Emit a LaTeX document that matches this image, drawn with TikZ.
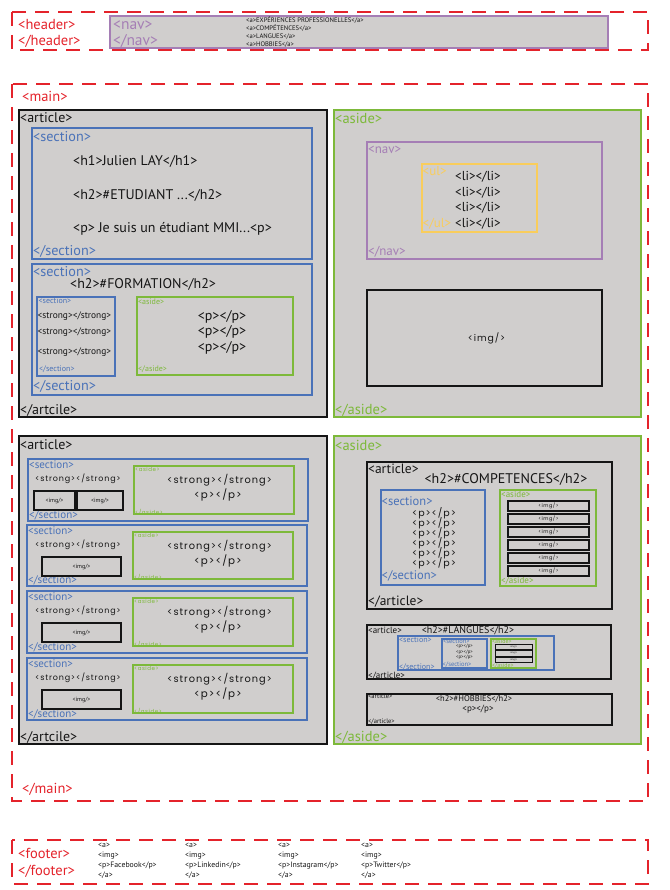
\documentclass[tikz,border=0pt]{standalone}
\usepackage{fontspec}
\setmainfont{PT Sans}
\newfontfamily\geofont[LetterSpace=10]{Poppins}
\usetikzlibrary{positioning}
\definecolor{redtag}{HTML}{E4232B}
\definecolor{bluetag}{HTML}{4A72B8}
\definecolor{greentag}{HTML}{7DB93A}
\definecolor{purpletag}{HTML}{A57EB5}
\definecolor{yellowtag}{HTML}{F9CD5C}
\definecolor{fillgray}{HTML}{D0CECD}
\definecolor{ink}{HTML}{151515}
\newcommand{\fsz}[1]{\fontsize{#1}{#1}\selectfont}
\tikzset{
  dashbox/.style={draw=redtag, line width=1.8pt, dash pattern=on 14pt off 9pt},
  artbox/.style={draw=ink, fill=fillgray, line width=1.5pt},
  asidebox/.style={draw=greentag, fill=fillgray, line width=1.5pt},
  greenbox/.style={draw=greentag, line width=1.4pt},
  secbox/.style={draw=bluetag, line width=1.4pt},
  navbox/.style={draw=purpletag, line width=1.5pt},
  ulbox/.style={draw=yellowtag, line width=1.4pt},
  imgbox/.style={draw=ink, line width=1.4pt},
  tag/.style={inner sep=0pt, anchor=west},
  mid/.style={inner sep=0pt},
  redlab/.style={tag, text=redtag, font=\fsz{14.5}},
  bluelab/.style={tag, text=bluetag},
  greenlab/.style={tag, text=greentag},
  purplelab/.style={tag, text=purpletag},
  lab/.style={tag, text=ink},
}

\begin{document}
\begin{tikzpicture}[x=1pt, y=-1pt]
  \useasboundingbox (0,0) rectangle (669,890);

  % header
  \draw[dashbox] (12,12) rectangle (648,50);
  \node[redlab] (hdopen) at (18,25) {<header>};
  \node[redlab] (hdclose) at (18,41.5) {</header>};
  \draw[navbox, fill=fillgray] (110,16) rectangle (608,48);
  \node[purplelab, font=\fsz{15.5}] (hnavopen) at (113,25) {<nav>};
  \node[purplelab, font=\fsz{15.5}] (hnavclose) at (113,41.5) {</nav>};
  \foreach \y/\txt [count=\i] in {20.5/EXPÉRIENCES PROFESSIONELLES, 28.5/COMPÉTENCES, 37/LANGUES, 45/HOBBIES}
    \node[lab, font=\fsz{6.6}] (hlink\i) at (246,\y) {<a>\txt</a>};

  % main
  \draw[dashbox] (12,84) rectangle (648,801);
  \node[redlab] (mainopen) at (22,96) {<main>};
  \node[redlab] (mainclose) at (22,789) {</main>};

  % article 1
  \draw[artbox] (19,110) rectangle (327,417);
  \node[lab, font=\fsz{14}] (artopenA) at (20,118) {<article>};
  \node[lab, font=\fsz{14}] (artcloseA) at (20,410) {</artcile>};
  \draw[secbox] (32,128) rectangle (312,259);
  \node[bluelab, font=\fsz{14.2}] (secopenA) at (33,137) {<section>};
  \node[bluelab, font=\fsz{14.2}] (seccloseA) at (33,251) {</section>};
  \node[lab, font=\fsz{14}] (hone) at (73,161) {<h1>Julien LAY</h1>};
  \node[lab, font=\fsz{14}] (htwo) at (73,195) {<h2>\#ETUDIANT ...</h2>};
  \node[lab, font=\fsz{14}] (para) at (73,229) {<p> Je suis un étudiant MMI...<p>};
  \draw[secbox] (32,264) rectangle (312,395);
  \node[bluelab, font=\fsz{14.2}] (secopenB) at (33,272) {<section>};
  \node[bluelab, font=\fsz{14.2}] (seccloseB) at (33,386) {</section>};
  \node[lab, font=\fsz{14}] (formation) at (70,284) {<h2>\#FORMATION</h2>};
  \draw[secbox] (37,297) rectangle (115,376);
  \node[bluelab, font=\fsz{8}] (isecopen) at (38.5,301) {<section>};
  \node[bluelab, font=\fsz{8}] (isecclose) at (39,369) {</section>};
  \foreach \y [count=\i] in {316,332.5,352.5}
    \node[lab, font=\fsz{9.4}] (istrong\i) at (37.5,\y) {<strong></strong>};
  \draw[greenbox] (137,297) rectangle (293,375);
  \node[greenlab, font=\fsz{8}] (iasideopen) at (138,302) {<aside>};
  \node[greenlab, font=\fsz{8}] (iasideclose) at (138,369.5) {</aside>};
  \foreach \y [count=\i] in {317,332,348}
    \node[mid, text=ink, font=\fsz{14}] (ipara\i) at (222,\y) {<p></p>};

  % aside 1
  \draw[asidebox] (334,110) rectangle (641,417);
  \node[greenlab, font=\fsz{14.5}] (asideopenA) at (335,118) {<aside>};
  \node[greenlab, font=\fsz{14.5}] (asidecloseA) at (335,410) {</aside>};
  \draw[navbox] (367,142) rectangle (602,259);
  \node[purplelab, font=\fsz{13}] (navopen) at (368,150) {<nav>};
  \node[purplelab, font=\fsz{13}] (navclose) at (368,252) {</nav>};
  \draw[ulbox] (422,164) rectangle (537,232);
  \node[tag, text=yellowtag, font=\fsz{13}] (ulopen) at (422.5,171) {<ul>};
  \node[tag, text=yellowtag, font=\fsz{13}] (ulclose) at (422.5,223.5) {</ul>};
  \foreach \y [count=\i] in {177,192.5,208,223.5}
    \node[lab, font=\fsz{13}] (li\i) at (455,\y) {<li></li>};
  \draw[imgbox, line width=1.8pt] (367,290) rectangle (602,386);
  \node[mid, text=ink, font=\geofont\fsz{9.3}] (imgA) at (486.5,338) {<img/>};

  % article 2
  \draw[artbox] (19,436) rectangle (327,744);
  \node[lab, font=\fsz{14}] (artopenB) at (20,445) {<article>};
  \node[lab, font=\fsz{14}] (artcloseB) at (20,737) {</artcile>};
  \foreach \t/\b/\l [count=\i] in {459/521/28, 525/586/27, 591/653/27, 658/720/27} {
    \draw[secbox] (\l,\t) rectangle (\l+280,\b);
    \node[bluelab, font=\fsz{11}] (ssopen\i) at (\l+1,\t+6) {<section>};
    \node[bluelab, font=\fsz{11}] (ssclose\i) at (\l+1,\b-6) {</section>};
    \node[mid, text=ink, font=\geofont\fsz{8}] (sstrong\i) at (78,\t+20) {<strong></strong>};
    \draw[greenbox] (\l+106,\t+7) rectangle (\l+266,\b-7);
    \node[greenlab, font=\geofont\fsz{5.5}] (saopen\i) at (\l+107,\t+10) {<aside>};
    \node[greenlab, font=\geofont\fsz{5.5}] (saclose\i) at (\l+107,\b-9) {</aside>};
    \node[mid, text=ink, font=\geofont\fsz{9.8}] (sastrong\i) at (219.5,\t+21) {<strong></strong>};
    \node[mid, text=ink, font=\geofont\fsz{10.3}] (sapara\i) at (218,\t+36) {<p></p>};
  }
  \draw[imgbox] (34,491) rectangle (75,510);
  \node[mid, text=ink, font=\fsz{6}] (simgA) at (54.5,500.5) {<img/>};
  \draw[imgbox] (77,491) rectangle (123,510);
  \node[mid, text=ink, font=\fsz{6}] (simgB) at (100,500.5) {<img/>};
  \foreach \t [count=\i from 2] in {525,591,658} {
    \draw[imgbox] (42,\t+32) rectangle (121,\t+51);
    \node[mid, text=ink, font=\fsz{6}] (simg\i) at (81.5,\t+41.5) {<img/>};
  }

  % aside 2
  \draw[asidebox] (334,436) rectangle (641,744);
  \node[greenlab, font=\fsz{14.5}] (asideopenB) at (335,445) {<aside>};
  \node[greenlab, font=\fsz{14.5}] (asidecloseB) at (335,737) {</aside>};

  % competences
  \draw[imgbox, line width=1.5pt] (367,462) rectangle (612,609);
  \node[lab, font=\fsz{13.5}] (compopen) at (368,469) {<article>};
  \node[lab, font=\fsz{13.5}] (compclose) at (368,602) {</article>};
  \node[mid, text=ink, font=\fsz{14}] (comptitle) at (506,479) {<h2>\#COMPETENCES</h2>};
  \draw[secbox] (381,490) rectangle (485,585);
  \node[bluelab, font=\fsz{12.5}] (csecopen) at (381.5,501) {<section>};
  \node[bluelab, font=\fsz{12.5}] (csecclose) at (381.5,576) {</section>};
  \foreach \i in {0,...,5}
    \node[mid, text=ink, font=\geofont\fsz{9.5}] (cpara\i) at (434,513+10*\i) {<p></p>};
  \draw[greenbox] (500,490) rectangle (596,586);
  \node[greenlab, font=\fsz{9}] (casideopen) at (501,494) {<aside>};
  \node[greenlab, font=\fsz{9}] (casideclose) at (501,581) {</aside>};
  \foreach \i in {0,...,5} {
    \draw[imgbox, line width=1.2pt] (508,501+13*\i) rectangle (589,511+13*\i);
    \node[mid, text=ink, font=\geofont\fsz{5}] (cimg\i) at (548.5,506+13*\i) {<img/>};
  }

  % langues
  \draw[imgbox, line width=1.5pt] (367,625) rectangle (611,679);
  \node[lab, font=\fsz{9}] (langopen) at (368,630) {<article>};
  \node[lab, font=\fsz{9}] (langclose) at (368,676) {</article>};
  \node[mid, text=ink, font=\fsz{10}] (langtitle) at (468,631) {<h2>\#LANGUES</h2>};
  \draw[secbox] (398,636) rectangle (554,670);
  \node[bluelab, font=\fsz{8}] (lsecopen) at (399,639.5) {<section>};
  \node[bluelab, font=\fsz{8}] (lsecclose) at (399,667) {</section>};
  \draw[secbox] (442,639) rectangle (487,668);
  \node[bluelab, font=\fsz{6.5}] (lisecopen) at (443,641.5) {<section>};
  \node[bluelab, font=\fsz{6.5}] (lisecclose) at (442.5,664.5) {</section>};
  \foreach \y [count=\i] in {646.5,652,657.5}
    \node[mid, text=ink, font=\fsz{4.8}] (lpara\i) at (464.5,\y) {<p></p>};
  \draw[greenbox] (491,639) rectangle (536,668);
  \node[greenlab, font=\fsz{6}] (lasideopen) at (492,641.3) {<aside>};
  \node[greenlab, font=\fsz{6}] (lasideclose) at (492,665.5) {</aside>};
  \foreach \t [count=\i] in {644,650.5,657} {
    \draw[imgbox, line width=1pt] (495,\t) rectangle (532,\t+5.5);
    \node[mid, text=ink, font=\fsz{2.5}] (limg\i) at (513.5,\t+2.75) {<img/>};
  }

  % hobbies
  \draw[imgbox, line width=1.5pt] (367,694) rectangle (612,725);
  \node[lab, font=\fsz{6.5}] (hobopen) at (368,696.5) {<article>};
  \node[lab, font=\fsz{6.5}] (hobclose) at (368,722) {</article>};
  \node[mid, text=ink, font=\fsz{8.5}] (hobtitle) at (474,699) {<h2>\#HOBBIES</h2>};
  \node[mid, text=ink, font=\fsz{9}] (hobpara) at (478,709.5) {<p></p>};

  % footer
  \draw[dashbox] (12,840) rectangle (648,884);
  \node[redlab] (ftopen) at (18,853.5) {<footer>};
  \node[redlab] (ftclose) at (18,871) {</footer>};
  \foreach \x/\net [count=\i] in {98/Facebook, 185/Linkedin, 278/Instagram, 361/Twitter} {
    \node[lab, font=\fsz{7.8}] (fa\i) at (\x,845.5) {<a>};
    \node[lab, font=\fsz{7.8}] (fimg\i) at (\x,855.5) {<img>};
    \node[lab, font=\fsz{7.8}] (fp\i) at (\x,865.5) {<p>\net</p>};
    \node[lab, font=\fsz{7.8}] (fend\i) at (\x,875.5) {</a>};
  }
\end{tikzpicture}
\end{document}
